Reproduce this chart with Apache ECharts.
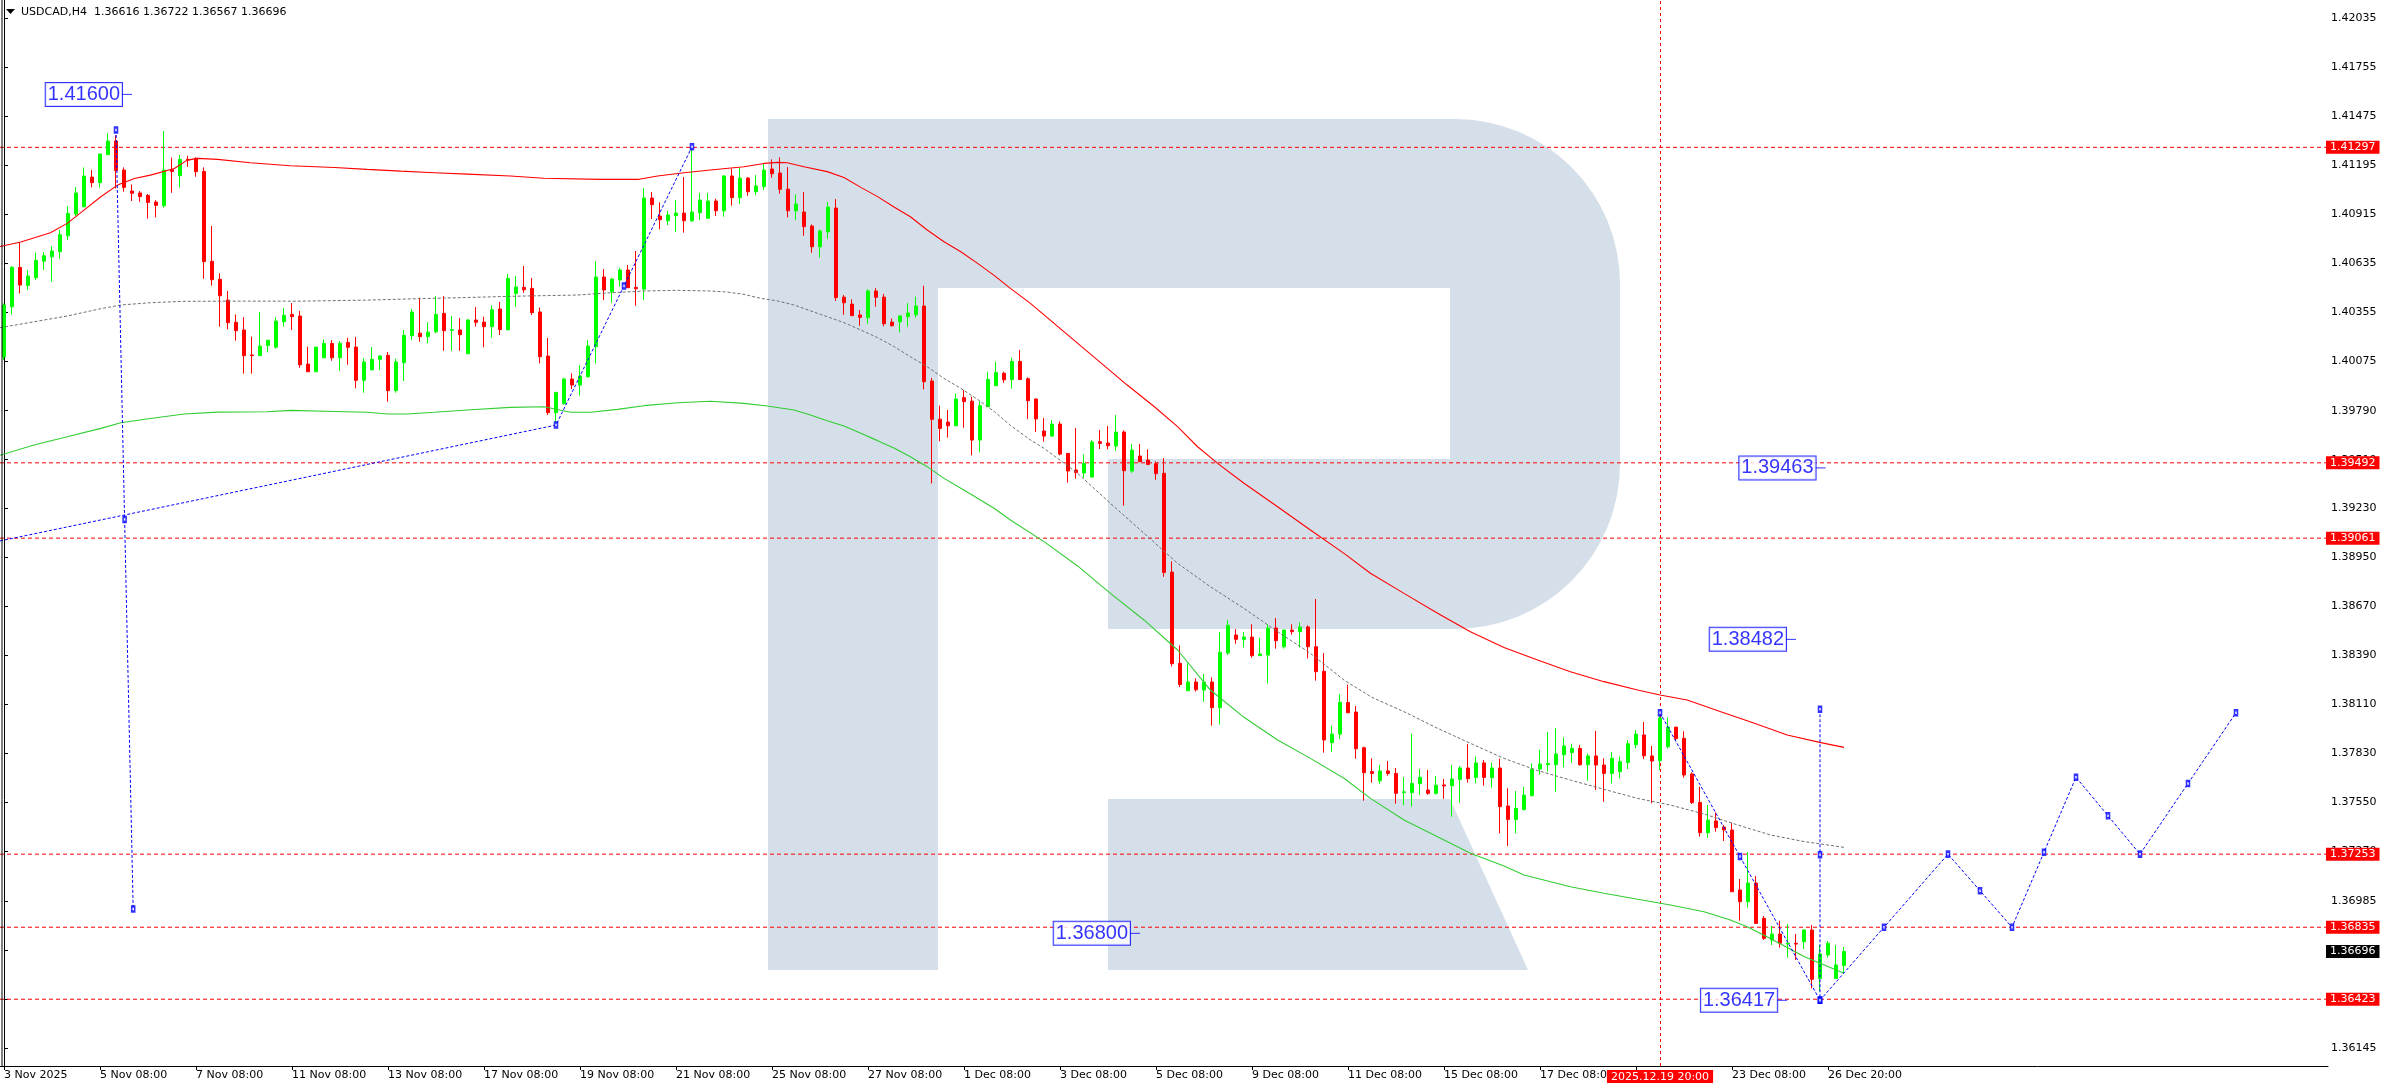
<!DOCTYPE html>
<html><head><meta charset="utf-8">
<script src="https://cdn.jsdelivr.net/npm/echarts@6/dist/echarts.min.js"></script>
<style>html,body{margin:0;padding:0;background:#fff;}#c{width:2388px;height:1090px;}</style>
</head><body><div id="c"></div>
<script>
// ---------------- DATA ----------------
const symbolTitle = 'USDCAD,H4';
const lastOHLC = [1.36616, 1.36722, 1.36567, 1.36696];
const dateLabels = ['3 Nov 2025','5 Nov 08:00','7 Nov 08:00','11 Nov 08:00','13 Nov 08:00','17 Nov 08:00','19 Nov 08:00','21 Nov 08:00','25 Nov 08:00','27 Nov 08:00','1 Dec 08:00','3 Dec 08:00','5 Dec 08:00','9 Dec 08:00','11 Dec 08:00','15 Dec 08:00','17 Dec 08:00','19 Dec 08:00','23 Dec 08:00','26 Dec 20:00'];
const labelStep = 12;
const barCount = 291;
const crossBar = 207;
const crossLabel = '2025.12.19 20:00';
const yTicks = [1.42035,1.41755,1.41475,1.41195,1.40915,1.40635,1.40355,1.40075,1.39790,1.39510,1.39230,1.38950,1.38670,1.38390,1.38110,1.37830,1.37550,1.37270,1.36985,1.36705,1.36425,1.36145];
const yMin = 1.36041, yMax = 1.42140;
const levels = [1.41297, 1.39492, 1.39061, 1.37253, 1.36835, 1.36423];
// [open, high, low, close]
const ohlc = [
[1.40099,1.40404,1.40080,1.40395],[1.40385,1.40618,1.40341,1.40610],[1.40610,1.40753,1.40461,1.40509],[1.40507,1.40595,1.40481,1.40561],[1.40551,1.40694,1.40538,1.40650],
[1.40646,1.40698,1.40595,1.40677],[1.40671,1.40732,1.40528,1.40704],[1.40700,1.40824,1.40660,1.40797],[1.40791,1.40961,1.40767,1.40919],[1.40915,1.41070,1.40904,1.41036],
[1.40957,1.41182,1.40954,1.41133],[1.41127,1.41167,1.41068,1.41095],[1.41095,1.41259,1.41066,1.41259],[1.41255,1.41377,1.41255,1.41333],[1.41333,1.41367,1.41062,1.41165],
[1.41167,1.41182,1.41043,1.41068],[1.41047,1.41085,1.40990,1.41034],[1.41036,1.41047,1.40986,1.41015],[1.41022,1.41030,1.40889,1.40982],[1.40984,1.40995,1.40896,1.40965],
[1.40963,1.41390,1.40952,1.41167],[1.41169,1.41238,1.41037,1.41159],[1.41135,1.41253,1.41068,1.41228],[1.41228,1.41249,1.41186,1.41224],[1.41234,1.41240,1.41129,1.41158],
[1.41159,1.41182,1.40545,1.40643],[1.40645,1.40847,1.40505,1.40540],[1.40542,1.40576,1.40271,1.40448],[1.40423,1.40475,1.40256,1.40294],[1.40296,1.40341,1.40191,1.40248],
[1.40252,1.40326,1.40002,1.40105],[1.40109,1.40214,1.40002,1.40105],[1.40105,1.40355,1.40105,1.40160],[1.40164,1.40194,1.40124,1.40194],[1.40154,1.40324,1.40145,1.40303],
[1.40299,1.40378,1.40271,1.40336],[1.40341,1.40406,1.40252,1.40328],[1.40332,1.40362,1.40036,1.40053],[1.40057,1.40156,1.40013,1.40013],[1.40013,1.40154,1.40010,1.40154],
[1.40093,1.40198,1.40093,1.40175],[1.40175,1.40194,1.40076,1.40093],[1.40093,1.40189,1.40019,1.40175],[1.40181,1.40208,1.40053,1.40153],[1.40154,1.40212,1.39918,1.39964],
[1.39964,1.40091,1.39893,1.40069],[1.40025,1.40154,1.40019,1.40084],[1.40084,1.40109,1.40023,1.40103],[1.40107,1.40126,1.39842,1.39905],[1.39905,1.40088,1.39893,1.40069],
[1.40065,1.40252,1.39960,1.40221],[1.40219,1.40372,1.40194,1.40355],[1.40234,1.40437,1.40185,1.40214],[1.40214,1.40296,1.40175,1.40240],[1.40242,1.40446,1.40233,1.40341],
[1.40347,1.40446,1.40133,1.40248],[1.40250,1.40332,1.40133,1.40254],[1.40252,1.40320,1.40133,1.40225],[1.40116,1.40315,1.40116,1.40309],[1.40309,1.40383,1.40271,1.40296],
[1.40297,1.40328,1.40153,1.40271],[1.40271,1.40393,1.40208,1.40368],[1.40372,1.40412,1.40223,1.40254],[1.40254,1.40572,1.40248,1.40547],[1.40461,1.40561,1.40385,1.40498],
[1.40496,1.40618,1.40465,1.40482],[1.40490,1.40549,1.40338,1.40351],[1.40355,1.40381,1.40061,1.40099],[1.40103,1.40206,1.39765,1.39779],[1.39779,1.39895,1.39714,1.39895],
[1.39830,1.39979,1.39825,1.39971],[1.39971,1.40004,1.39914,1.39937],[1.39937,1.40050,1.39876,1.39989],[1.39985,1.40194,1.39979,1.40160],[1.40156,1.40645,1.40061,1.40555],
[1.40555,1.40601,1.40423,1.40481],[1.40471,1.40551,1.40408,1.40543],[1.40538,1.40608,1.40500,1.40595],[1.40595,1.40624,1.40494,1.40494],[1.40496,1.40704,1.40391,1.40488],
[1.40486,1.41064,1.40423,1.41007],[1.41007,1.41041,1.40887,1.40969],[1.40904,1.40982,1.40828,1.40883],[1.40877,1.40933,1.40852,1.40910],[1.40906,1.40995,1.40812,1.40921],
[1.40921,1.41127,1.40809,1.40877],[1.40877,1.41302,1.40870,1.40927],[1.40923,1.41036,1.40881,1.40995],[1.40891,1.41036,1.40887,1.40990],[1.40990,1.41003,1.40904,1.40934],
[1.40934,1.41138,1.40900,1.41133],[1.41133,1.41175,1.40963,1.41009],[1.41009,1.41179,1.40973,1.41121],[1.41121,1.41127,1.41020,1.41043],[1.41043,1.41138,1.41024,1.41076],
[1.41072,1.41205,1.41053,1.41167],[1.41173,1.41228,1.41123,1.41146],[1.41150,1.41240,1.41032,1.41057],[1.41058,1.41184,1.40896,1.40934],[1.40934,1.41028,1.40881,1.40973],
[1.40927,1.41041,1.40791,1.40843],[1.40847,1.40856,1.40694,1.40728],[1.40728,1.40828,1.40666,1.40818],[1.40814,1.40984,1.40774,1.40955],[1.40950,1.41001,1.40418,1.40437],
[1.40440,1.40452,1.40339,1.40408],[1.40400,1.40427,1.40334,1.40334],[1.40338,1.40366,1.40276,1.40324],[1.40322,1.40486,1.40288,1.40475],[1.40475,1.40492,1.40385,1.40439],
[1.40440,1.40458,1.40273,1.40288],[1.40297,1.40318,1.40273,1.40276],[1.40299,1.40338,1.40238,1.40332],[1.40328,1.40406,1.40271,1.40349],[1.40338,1.40442,1.40322,1.40389],
[1.40389,1.40505,1.39912,1.39956],[1.39960,1.39977,1.39374,1.39741],[1.39742,1.39819,1.39615,1.39689],[1.39725,1.39794,1.39636,1.39704],[1.39704,1.39889,1.39704,1.39857],
[1.39865,1.39908,1.39693,1.39842],[1.39845,1.39870,1.39535,1.39622],[1.39622,1.39845,1.39552,1.39819],[1.39813,1.40013,1.39813,1.39969],[1.39933,1.40071,1.39933,1.40008],
[1.40004,1.40013,1.39950,1.39967],[1.39969,1.40093,1.39916,1.40072],[1.40072,1.40137,1.39966,1.39969],[1.39973,1.39981,1.39742,1.39847],[1.39857,1.39861,1.39668,1.39743],
[1.39674,1.39748,1.39613,1.39645],[1.39645,1.39737,1.39640,1.39714],[1.39714,1.39729,1.39535,1.39542],[1.39546,1.39546,1.39378,1.39445],[1.39451,1.39691,1.39401,1.39436],
[1.39434,1.39540,1.39407,1.39489],[1.39411,1.39622,1.39407,1.39611],[1.39613,1.39680,1.39571,1.39603],[1.39605,1.39702,1.39569,1.39590],[1.39588,1.39765,1.39561,1.39668],
[1.39668,1.39678,1.39247,1.39447],[1.39445,1.39600,1.39434,1.39565],[1.39531,1.39600,1.39498,1.39498],[1.39508,1.39569,1.39479,1.39483],[1.39487,1.39500,1.39395,1.39430],
[1.39432,1.39519,1.38840,1.38865],[1.38867,1.38928,1.38327,1.38343],[1.38345,1.38448,1.38209,1.38224],[1.38188,1.38345,1.38188,1.38238],[1.38238,1.38259,1.38183,1.38194],
[1.38192,1.38284,1.38125,1.38238],[1.38238,1.38265,1.37988,1.38091],[1.38091,1.38524,1.37994,1.38408],[1.38404,1.38593,1.38392,1.38562],[1.38507,1.38541,1.38457,1.38482],
[1.38482,1.38524,1.38436,1.38495],[1.38495,1.38568,1.38377,1.38389],[1.38389,1.38490,1.38389,1.38398],[1.38392,1.38568,1.38230,1.38547],[1.38547,1.38604,1.38429,1.38474],
[1.38440,1.38539,1.38429,1.38535],[1.38535,1.38568,1.38509,1.38526],[1.38526,1.38579,1.38436,1.38553],[1.38553,1.38562,1.38373,1.38440],[1.38440,1.38713,1.38246,1.38297],
[1.38299,1.38404,1.37834,1.37906],[1.37891,1.37988,1.37839,1.37940],[1.37940,1.38169,1.37912,1.38121],[1.38121,1.38223,1.38062,1.38062],[1.38066,1.38101,1.37799,1.37856],
[1.37862,1.37868,1.37559,1.37719],[1.37725,1.37801,1.37662,1.37715],[1.37673,1.37763,1.37656,1.37729],[1.37729,1.37786,1.37702,1.37715],[1.37715,1.37746,1.37542,1.37601],
[1.37605,1.37694,1.37534,1.37610],[1.37605,1.37942,1.37525,1.37658],[1.37656,1.37740,1.37593,1.37692],[1.37620,1.37734,1.37593,1.37601],[1.37601,1.37700,1.37593,1.37647],
[1.37649,1.37683,1.37570,1.37643],[1.37645,1.37763,1.37467,1.37683],[1.37681,1.37757,1.37548,1.37746],[1.37746,1.37883,1.37662,1.37685],[1.37692,1.37811,1.37658,1.37775],
[1.37775,1.37792,1.37645,1.37692],[1.37691,1.37778,1.37633,1.37746],[1.37746,1.37799,1.37372,1.37525],[1.37529,1.37630,1.37300,1.37452],[1.37452,1.37614,1.37372,1.37515],
[1.37509,1.37639,1.37502,1.37591],[1.37588,1.37773,1.37582,1.37740],[1.37740,1.37849,1.37706,1.37769],[1.37765,1.37952,1.37725,1.37771],[1.37765,1.37973,1.37610,1.37826],
[1.37822,1.37921,1.37750,1.37872],[1.37834,1.37885,1.37776,1.37858],[1.37858,1.37878,1.37759,1.37765],[1.37765,1.37830,1.37673,1.37815],[1.37815,1.37958,1.37620,1.37763],
[1.37763,1.37801,1.37553,1.37715],[1.37715,1.37837,1.37658,1.37801],[1.37725,1.37811,1.37687,1.37782],[1.37778,1.37906,1.37740,1.37885],[1.37879,1.37963,1.37858,1.37940],
[1.37935,1.38009,1.37797,1.37816],[1.37815,1.37872,1.37544,1.37786],[1.37788,1.38068,1.37734,1.38032],[1.37868,1.38034,1.37857,1.37980],[1.37980,1.37980,1.37906,1.37914],
[1.37916,1.37956,1.37691,1.37706],[1.37712,1.37721,1.37540,1.37548],[1.37549,1.37639,1.37353,1.37376],[1.37376,1.37534,1.37347,1.37448],[1.37443,1.37492,1.37382,1.37405],
[1.37408,1.37420,1.37328,1.37391],[1.37391,1.37433,1.37038,1.37038],[1.37048,1.37111,1.36872,1.36981],[1.36981,1.37265,1.36947,1.37088],[1.37088,1.37128,1.36855,1.36857],
[1.36886,1.36899,1.36762,1.36771],[1.36762,1.36842,1.36733,1.36796],[1.36796,1.36872,1.36718,1.36743],[1.36739,1.36853,1.36661,1.36743],[1.36743,1.36796,1.36647,1.36739],
[1.36752,1.36823,1.36710,1.36819],[1.36819,1.36848,1.36485,1.36537],[1.36542,1.36733,1.36470,1.36682],[1.36676,1.36756,1.36661,1.36743],[1.36542,1.36733,1.36542,1.36619],
[1.36616,1.36722,1.36567,1.36696]
];
// indicator lines: [bar, price]
const redMA = [[-0.5,1.4073],[2.1,1.40755],[5.8,1.40808],[7.9,1.40862],[10,1.40938],[12.1,1.41014],[14.2,1.41081],[16.3,1.41119],[18.3,1.41138],[21.3,1.41176],[22.9,1.41224],[24.2,1.41234],[26.7,1.41228],[30.8,1.41209],[35.8,1.41192],[41.3,1.41182],[45.4,1.41171],[49.6,1.41161],[53.8,1.41152],[57.9,1.41144],[63.3,1.41133],[67.5,1.4112],[74.6,1.41114],[79.4,1.41114],[81.7,1.41133],[85,1.41152],[88.3,1.41167],[92.5,1.41186],[95,1.41205],[96.7,1.41211],[97.9,1.41209],[100,1.41186],[102.9,1.41158],[105,1.41125],[107.1,1.41068],[109.2,1.41015],[111.3,1.40954],[113.3,1.409],[115.4,1.40824],[117.5,1.40757],[119.6,1.407],[121.7,1.40633],[123.8,1.40563],[125.8,1.4049],[128.3,1.40404],[136.7,1.4008],[140.4,1.39937],[143.8,1.39813],[146.7,1.39699],[149.2,1.39584],[151.7,1.39489],[155,1.39375],[159.2,1.39241],[163.3,1.39108],[167.5,1.38974],[170.8,1.3886],[175,1.38745],[179.2,1.38631],[183.3,1.38526],[187.5,1.38436],[191.7,1.38364],[195.8,1.38297],[200,1.3824],[204.2,1.38192],[207,1.38164],[210.4,1.38135],[214.6,1.38068],[218.8,1.38002],[222.9,1.37935],[227.1,1.37891],[230,1.37864]];
const grayMA = [[-0.5,1.40265],[3.75,1.40299],[7.9,1.40332],[12.1,1.40374],[14.6,1.40395],[18.3,1.40408],[22.5,1.40416],[28.75,1.40417],[37.1,1.40417],[45.4,1.40423],[51.7,1.40431],[57.9,1.40438],[64.6,1.40446],[71.7,1.40452],[75.8,1.40465],[80,1.40475],[84.2,1.40479],[88.3,1.40475],[90.4,1.40469],[92.5,1.40456],[94.6,1.40433],[96.7,1.40418],[98.75,1.40395],[100.8,1.40362],[102.9,1.40328],[105,1.40294],[107.1,1.40252],[109.2,1.40208],[111.3,1.40156],[113.3,1.40099],[115.4,1.40042],[117.5,1.39975],[119.6,1.39918],[121.7,1.39855],[123.8,1.39785],[125.8,1.39706],[128.3,1.39623],[130,1.39575],[134.2,1.39432],[138.3,1.3926],[142.5,1.39089],[146.7,1.38917],[150.8,1.38783],[155,1.38659],[159.2,1.38526],[163.3,1.38402],[167.5,1.38249],[171,1.3815],[175,1.38068],[179.2,1.37973],[183.3,1.37887],[187.5,1.37801],[191.7,1.37731],[195.8,1.37677],[200,1.37624],[204.2,1.37572],[208.3,1.37534],[212.5,1.37483],[216.7,1.3742],[220.8,1.37363],[225,1.37325],[230,1.37292]];
const greenMA = [[-0.5,1.39535],[3.75,1.39594],[7.9,1.39641],[12.1,1.39689],[14.6,1.39721],[18.3,1.39746],[22.5,1.39771],[26.7,1.39782],[32.9,1.39784],[35.8,1.39792],[41.3,1.39786],[45.4,1.39781],[47.9,1.39771],[50.4,1.39771],[53.8,1.39781],[57.9,1.39794],[63.3,1.39809],[67.5,1.39813],[70.8,1.39781],[73.3,1.39781],[76.7,1.39798],[80,1.39819],[84.2,1.39836],[88.3,1.39844],[92.5,1.39832],[95.4,1.39817],[98.75,1.39794],[100.8,1.39766],[102.9,1.39733],[105,1.39703],[107.1,1.39661],[109.2,1.39619],[111.3,1.39575],[113.3,1.39527],[115.4,1.3947],[117.5,1.39403],[119.6,1.39346],[121.7,1.39289],[123.8,1.39231],[125.8,1.39165],[130,1.39041],[134.2,1.38902],[138.3,1.38745],[142.5,1.38593],[146.7,1.38421],[150.8,1.38192],[155,1.38036],[159.2,1.37906],[163.3,1.37801],[167.5,1.37687],[170.8,1.37572],[175,1.37448],[179.2,1.37353],[183.3,1.37258],[187.5,1.37185],[190,1.37134],[195.8,1.37067],[200,1.37029],[204.2,1.36995],[208.3,1.36962],[212.5,1.36924],[215.8,1.36876],[217.9,1.36838],[220.8,1.36771],[225,1.36667],[230,1.36571]];
// blue drawn objects: [bar, price]
const trendA = [[-0.5,1.39045],[69,1.39708],[86,1.41300]];
const vertA = [[14,1.41396],[16.15,1.36939]];
const downB = [[207,1.38062],[227,1.36417]];
const vertB = [[227,1.38082],[227,1.36417]];
const forecast = [[227,1.36417],[243,1.37253],[251,1.36835],[259,1.37693],[267,1.37253],[279,1.38062]];
const priceTags = [[16,1.41600],[227.7,1.39463],[224,1.38482],[222.9,1.36417],[142,1.36800]];

// ---------------- CHART ----------------
const FONT = 'DejaVu Sans';
const categories = Array.from({length: barCount}, (_, i) => 'b' + i);
const showTick = (i) => i % labelStep === 0 && (i / labelStep) < dateLabels.length;
const candleData = ohlc.map(d => [d[0], d[3], d[2], d[1]]);
const xEnd = barCount - 0.5;

const handlePts = [];
function addHandles(seg) {
  for (let k = 0; k < seg.length; k++) {
    handlePts.push(seg[k]);
    if (k < seg.length - 1) handlePts.push([(seg[k][0] + seg[k+1][0]) / 2, (seg[k][1] + seg[k+1][1]) / 2]);
  }
}
addHandles(trendA.slice(1)); addHandles(vertA); addHandles(downB); addHandles(vertB); addHandles(forecast);

const tagLabel = (bg) => ({
  show: true, distance: 0, offset: [-2, 0], color: '#ffffff', backgroundColor: bg,
  padding: [1, 4, 0, 4], lineHeight: 12, fontSize: 11, fontFamily: FONT
});
const levelSeries = (v, lineVisible, bg) => ({
  type: 'line', xAxisIndex: 1, data: [[-0.5, v], [xEnd, v]], showSymbol: false, symbol: 'none', silent: true, z: 4,
  lineStyle: lineVisible ? {color: '#ff0000', type: [4, 3], width: 1} : {opacity: 0, width: 0},
  endLabel: Object.assign(tagLabel(bg), {formatter: v.toFixed(5)})
});
const blueLine = (data) => ({
  type: 'line', xAxisIndex: 1, data: data, showSymbol: false, symbol: 'none', silent: true, z: 8,
  lineStyle: {color: '#0000ff', width: 1, type: [3, 2]}
});

const option = {
  animation: false,
  backgroundColor: '#ffffff',
  grid: {left: 0, top: 0, width: 8 * barCount, height: 1066},
  xAxis: [{
    type: 'category', data: categories, boundaryGap: true,
    axisLine: {show: true, lineStyle: {color: '#000', width: 1}},
    axisTick: {show: true, alignWithLabel: true, length: 4, interval: showTick, lineStyle: {color: '#000'}},
    axisLabel: {show: true, interval: showTick, formatter: (v, i) => dateLabels[i / labelStep] || '',
      align: 'left', margin: 4, fontSize: 11, fontFamily: FONT, color: '#000'},
    splitLine: {show: false}
  }, {
    type: 'value', min: -0.5, max: xEnd, show: false
  }],
  yAxis: {
    type: 'value', position: 'right', offset: -4, min: yMin, max: yMax, scale: true,
    axisLine: {show: true, lineStyle: {color: '#000', width: 1}},
    axisTick: {show: true, customValues: yTicks, length: 4, lineStyle: {color: '#000'}},
    axisLabel: {show: true, customValues: yTicks, formatter: v => v.toFixed(5), margin: 7,
      fontSize: 11, fontFamily: FONT, color: '#000'},
    splitLine: {show: false}
  },
  series: [
    {
      type: 'candlestick', data: candleData, barWidth: 4, z: 5,
      itemStyle: {color: '#00ff00', color0: '#ff0000', borderColor: '#00ff00', borderColor0: '#ff0000', borderWidth: 1},
      markLine: {
        silent: true, symbol: ['none', 'none'], animation: false,
        data: [
          {xAxis: crossBar, lineStyle: {color: '#ff0000', type: [3, 3], width: 1},
           label: {show: true, position: 'start', distance: 4, formatter: crossLabel, color: '#fff',
             backgroundColor: '#ff0000', padding: [1, 4, 0, 4], lineHeight: 12, fontSize: 11, fontFamily: FONT}}
        ]
      }
    },
    ...levels.map(v => levelSeries(v, true, '#ff0000')),
    levelSeries(lastOHLC[3], false, '#000000'),
    {type: 'line', xAxisIndex: 1, data: redMA, showSymbol: false, symbol: 'none', silent: true, z: 6,
     lineStyle: {color: '#ff0000', width: 1.1}},
    {type: 'line', xAxisIndex: 1, data: grayMA, showSymbol: false, symbol: 'none', silent: true, z: 6,
     lineStyle: {color: '#707070', width: 1, type: [3, 2]}},
    {type: 'line', xAxisIndex: 1, data: greenMA, showSymbol: false, symbol: 'none', silent: true, z: 6,
     lineStyle: {color: '#32cd32', width: 1.1}},
    blueLine(trendA), blueLine(vertA), blueLine(downB), blueLine(vertB), blueLine(forecast),
    {type: 'scatter', xAxisIndex: 1, data: handlePts, symbol: 'emptyRect', symbolSize: [3, 5], silent: true, z: 9,
     itemStyle: {color: '#0000ff', borderColor: '#0000ff', borderWidth: 1}},
    {type: 'scatter', xAxisIndex: 1, data: priceTags, symbol: 'rect', symbolSize: [10, 1], symbolOffset: [-5, 0],
     silent: true, z: 10, itemStyle: {color: '#0000ff'},
     label: {show: true, position: 'left', distance: 0, formatter: p => p.value[1].toFixed(5),
       color: '#0000ff', fontSize: 20, fontFamily: 'Liberation Sans', backgroundColor: '#ffffff',
       borderColor: '#0000ff', borderWidth: 1, padding: [2, 2, 1, 2], lineHeight: 20}}
  ],
  graphic: [
    {type: 'group', silent: true, z: 100, children: [
      {type: 'rect', shape: {x: 768, y: 119, width: 170, height: 851}, style: {fill: '#d5dfea', blend: 'multiply'}},
      {type: 'rect', shape: {x: 938, y: 119, width: 512, height: 169}, style: {fill: '#d5dfea', blend: 'multiply'}},
      {type: 'rect', shape: {x: 1108, y: 459, width: 342, height: 170}, style: {fill: '#d5dfea', blend: 'multiply'}},
      {type: 'rect', shape: {x: 1450, y: 119, width: 170, height: 510, r: [0, 165, 165, 0]}, style: {fill: '#d5dfea', blend: 'multiply'}},
      {type: 'polygon', shape: {points: [[1108, 799], [1450, 799], [1528, 970], [1108, 970]]}, style: {fill: '#d5dfea', blend: 'multiply'}}
    ]},
    {type: 'line', silent: true, z: 50, shape: {x1: 2, y1: 0, x2: 2, y2: 1066}, style: {stroke: '#000', lineWidth: 1}},
    {type: 'polygon', silent: true, z: 50, shape: {points: [[6, 9], [15, 9], [10.5, 14]]}, style: {fill: '#000'}},
    {type: 'text', silent: true, z: 50, x: 21, y: 12,
     style: {text: symbolTitle + '  ' + lastOHLC.map(v => v.toFixed(5)).join(' '), font: '11px "DejaVu Sans"', fill: '#000', verticalAlign: 'middle'}}
  ]
};

const chart = echarts.init(document.getElementById('c'));
chart.setOption(option);
</script>
</body></html>
